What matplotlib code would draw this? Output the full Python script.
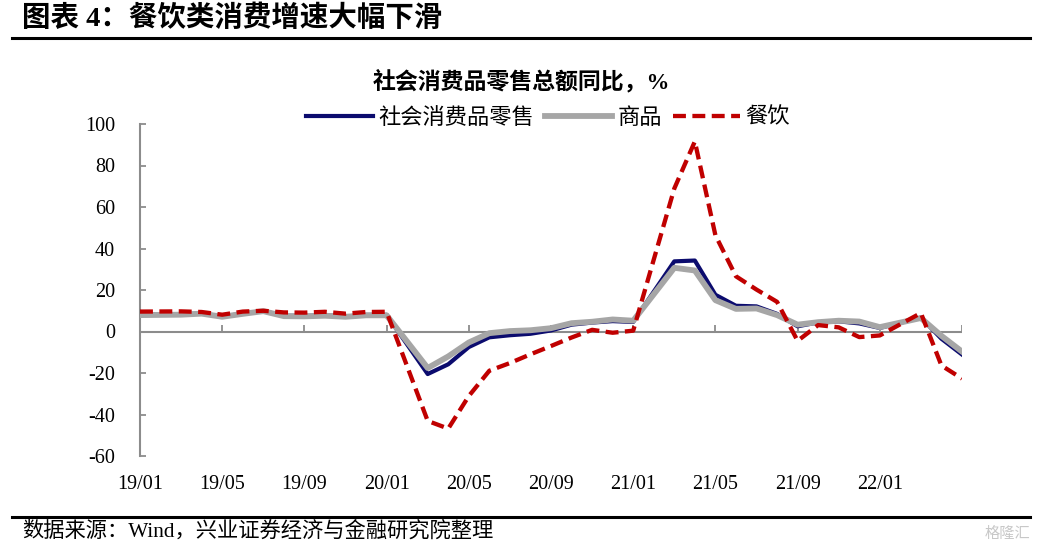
import matplotlib
matplotlib.use("Agg")
import matplotlib.pyplot as plt
from matplotlib.lines import Line2D

# ---- data ----
months = ["2018-12",
          "2019-02", "2019-03", "2019-04", "2019-05", "2019-06", "2019-07", "2019-08", "2019-09", "2019-10", "2019-11", "2019-12",
          "2020-02", "2020-03", "2020-04", "2020-05", "2020-06", "2020-07", "2020-08", "2020-09", "2020-10", "2020-11", "2020-12",
          "2021-02", "2021-03", "2021-04", "2021-05", "2021-06", "2021-07", "2021-08", "2021-09", "2021-10", "2021-11", "2021-12",
          "2022-02", "2022-03", "2022-04"]
retail = [8.2,
          8.2, 8.7, 7.2, 8.6, 9.8, 7.6, 7.5, 7.8, 7.2, 8.0, 8.0,
          -20.5, -15.8, -7.5, -2.8, -1.8, -1.1, 0.5, 3.3, 4.3, 5.0, 4.6,
          33.8, 34.2, 17.7, 12.4, 12.1, 8.5, 2.5, 4.4, 4.9, 3.9, 1.7,
          6.7, -3.5, -11.1]
goods = [7.9,
         8.1, 8.6, 7.1, 8.5, 9.8, 7.4, 7.3, 7.6, 7.1, 7.8, 7.8,
         -17.6, -12.0, -5.3, -0.8, 0.2, 0.6, 1.6, 4.0, 4.7, 5.8, 5.2,
         30.7, 29.4, 15.1, 10.9, 11.1, 7.9, 3.3, 4.5, 5.2, 4.8, 2.1,
         6.5, -2.1, -9.7]
catering = [9.6,
            9.7, 9.4, 8.1, 9.6, 10.0, 9.2, 9.1, 9.5, 8.6, 9.4, 9.5,
            -43.1, -46.8, -31.1, -18.9, -15.2, -11.0, -7.0, -2.9, 0.8, -0.6, 0.4,
            68.9, 91.6, 46.4, 26.6, 20.2, 14.3, -4.5, 3.1, 2.0, -2.7, -1.9,
            8.9, -16.4, -22.7]
tick_labels = ["19/01", "19/05", "19/09", "20/01", "20/05", "20/09", "21/01", "21/05", "21/09", "22/01"]
series_names = ["社会消费品零售", "商品", "餐饮"]
title = "图表 4：餐饮类消费增速大幅下滑"
chart_title = "社会消费品零售总额同比，%"
source = "数据来源：Wind，兴业证券经济与金融研究院整理"

# month index relative to 2018-12 (position of the first category)
def month_index(s):
    y, m = s.split("-")
    return (int(y) - 2018) * 12 + int(m) - 12

x = [month_index(m) for m in months]
n_slots = 40

NAVY = "#0B0B6E"
GRAY = "#A6A6A6"
RED = "#C00000"
AXC = "#8C8C8C"
SERIF_CJK = ["Liberation Serif", "Noto Sans CJK SC"]

LW_N, LW_G, LW_R = 3.0, 4.2, 3.1
DASH = (3.0, 1.5)

fig = plt.figure(figsize=(10.37, 5.51), dpi=100)
ax = fig.add_axes([140 / 1037, 1 - 456 / 551, 822 / 1037, 332 / 551])

ax.plot(x, retail, color=NAVY, lw=LW_N, zorder=3)
ax.plot(x, goods, color=GRAY, lw=LW_G, zorder=4)
ax.plot(x, catering, color=RED, lw=LW_R, dashes=DASH, zorder=5)

ax.set_xlim(0, n_slots)
ax.set_ylim(-60, 100)
ax.set_yticks(range(-60, 101, 20))
ax.set_yticklabels([str(v) for v in range(-60, 101, 20)], family="Liberation Serif", fontsize=14.5)
ax.tick_params(axis="y", direction="in", length=4, width=1.3, color=AXC, pad=18)

xt = list(range(0, n_slots + 1, 4))
ax.set_xticks(xt[:len(tick_labels)])
ax.set_xticklabels(tick_labels, family="Liberation Serif", fontsize=14.5)
ax.tick_params(axis="x", length=0, pad=14)

for s in ["top", "right", "bottom"]:
    ax.spines[s].set_visible(False)
ax.spines["left"].set_color(AXC)
ax.spines["left"].set_linewidth(1.5)

ax.axhline(0, color=AXC, lw=1.5, zorder=2)
ax.vlines(xt[1:], 0, 3.3, color=AXC, lw=1.3, zorder=2)

handles = [Line2D([], [], color=NAVY, lw=LW_N),
           Line2D([], [], color=GRAY, lw=LW_G),
           Line2D([], [], color=RED, lw=LW_R, dashes=DASH)]
fig.legend(handles, series_names, loc="center", bbox_to_anchor=(548 / 1037, 1 - 117 / 551),
           ncol=3, frameon=False, handlelength=3.0, handletextpad=0.25, columnspacing=0.5,
           prop={"family": "Noto Sans CJK SC", "size": 16})

fig.text(521 / 1037, 1 - 82 / 551, chart_title, ha="center", va="center",
         family=SERIF_CJK, fontsize=16.5, fontweight="bold")

fig.text(22 / 1037, 1 - 18 / 551, title, ha="left", va="center",
         family=SERIF_CJK, fontsize=20.5, fontweight="bold")
fig.add_artist(Line2D([12 / 1037, 1030 / 1037], [1 - 38 / 551] * 2, color="black", lw=2.2))
fig.add_artist(Line2D([12 / 1037, 1030 / 1037], [1 - 517 / 551] * 2, color="black", lw=2.2))
fig.text(22 / 1037, 1 - 531 / 551, source, ha="left", va="center",
         family=SERIF_CJK, fontsize=15.3)
fig.text(1030 / 1037, 1 - 533 / 551, "格隆汇", ha="right", va="center",
         family="Noto Sans CJK SC", fontsize=11, color="#C8C8C8")

fig.savefig("out.png", dpi=100)
